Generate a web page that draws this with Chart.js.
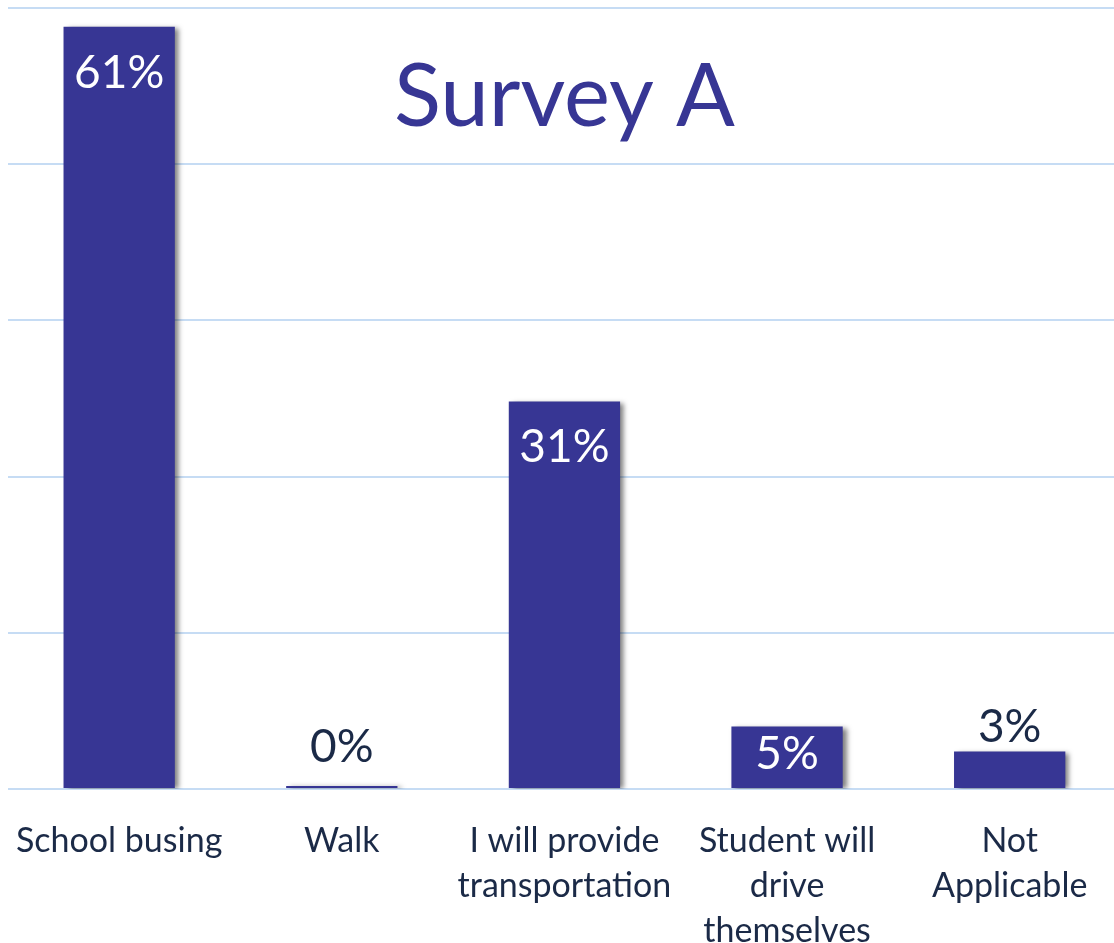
<!DOCTYPE html>
<html>
<head>
<meta charset="utf-8">
<script src="https://cdn.jsdelivr.net/npm/chart.js@4"></script>
<style>
  html, body { margin: 0; padding: 0; background: #fff; overflow: hidden; }
  #wrap { width: 1127px; height: 943px; position: relative; margin-left: -6px; }
</style>
</head>
<body>
<div id="wrap"><canvas id="chart"></canvas></div>
<script>
const categories = [
    'School busing',
    'Walk',
    ['I will provide', 'transportation'],
    ['Student will', 'drive', 'themselves'],
    ['Not', 'Applicable']
];
const shares = [0.61, 0, 0.31, 0.05, 0.03];
const yMax = 0.625;
const yStep = 0.125;
const chartTitle = 'Survey A';

const barColor = '#373694';
const gridColor = '#c6dcf4';
const textColor = '#1b2a47';
const fontFamily = 'Lato, "Open Sans", sans-serif';

// drop shadow behind the bars
const barShadow = {
    id: 'barShadow',
    beforeDatasetsDraw(chart) {
        const ctx = chart.ctx;
        ctx.save();
        ctx.shadowColor = 'rgba(0,0,0,0.5)';
        ctx.shadowOffsetX = 4;
        ctx.shadowOffsetY = 1;
        ctx.shadowBlur = 5;
    },
    afterDatasetsDraw(chart) {
        chart.ctx.restore();
    }
};

// percent labels + the big title inside the plot
const valueLabels = {
    id: 'valueLabels',
    afterDraw(chart) {
        const ctx = chart.ctx;
        const meta = chart.getDatasetMeta(0);
        ctx.save();
        ctx.font = '46px ' + fontFamily;
        ctx.textAlign = 'center';
        ctx.textBaseline = 'middle';
        meta.data.forEach((bar, i) => {
            const text = Math.round(shares[i] * 100) + '%';
            const h = bar.base - bar.y;
            let y;
            if (h >= 100) {
                ctx.fillStyle = '#ffffff';
                y = bar.y + 46;
            } else if (h >= 50) {
                ctx.fillStyle = '#ffffff';
                y = bar.y + h / 2 - 3;
            } else {
                ctx.fillStyle = textColor;
                y = Math.min(bar.y - 24, bar.base - 41);
            }
            ctx.fillText(text, bar.x, y);
        });

        const area = chart.chartArea;
        ctx.fillStyle = barColor;
        ctx.font = '87px ' + fontFamily;
        ctx.fillText(chartTitle, (area.left + area.right) / 2, area.top + 90);
        ctx.restore();
    }
};

const data = {
    labels: categories,
    datasets: [{
        data: shares,
        backgroundColor: barColor,
        borderWidth: 0,
        categoryPercentage: 1,
        barPercentage: 0.5,
        minBarLength: 3
    }]
};

const config = {
    type: 'bar',
    data: data,
    plugins: [barShadow, valueLabels],
    options: {
        responsive: true,
        maintainAspectRatio: false,
        animation: false,
        layout: { padding: { top: 8, left: 0, right: 0, bottom: 0 } },
        plugins: {
            legend: { display: false },
            tooltip: { enabled: false }
        },
        scales: {
            x: {
                grid: { display: false },
                border: { display: false },
                ticks: {
                    color: textColor,
                    padding: 22,
                    maxRotation: 0,
                    autoSkip: false,
                    font: { family: fontFamily, size: 34, lineHeight: 1.32 }
                },
                afterFit(scale) { scale.height = 154; }
            },
            y: {
                min: 0,
                max: yMax,
                ticks: { display: false, stepSize: yStep },
                grid: { color: gridColor, lineWidth: 2, drawTicks: false },
                border: { display: false },
                afterFit(scale) { scale.width = 0; }
            }
        }
    }
};

new Chart(document.querySelector('#chart'), config);
</script>
</body>
</html>
